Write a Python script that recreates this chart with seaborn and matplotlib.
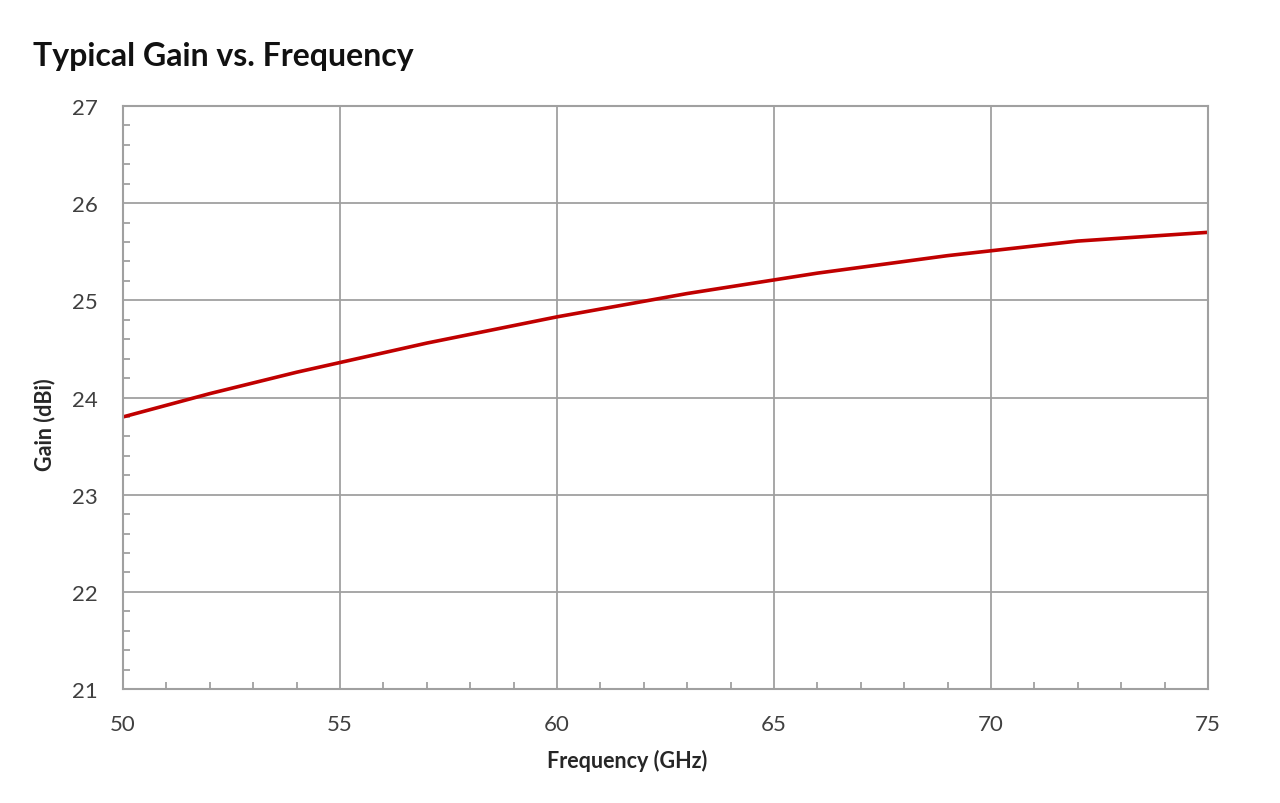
import numpy as np
import pandas as pd
import matplotlib
matplotlib.use('Agg')
import matplotlib.pyplot as plt
import seaborn as sns
from matplotlib.ticker import MultipleLocator

# Datos
freq = [50, 51, 52, 53, 54, 55, 56, 57, 58, 59, 60, 61, 62, 63, 64, 65, 66, 67, 68, 69, 70, 71, 72, 73, 74, 75]
gain = [23.80, 23.92, 24.04, 24.15, 24.26, 24.36, 24.46, 24.56, 24.65, 24.74, 24.83, 24.91, 24.99, 25.07, 25.14,
        25.21, 25.28, 25.34, 25.40, 25.46, 25.51, 25.56, 25.61, 25.64, 25.67, 25.70]
df = pd.DataFrame({'Frecuencia': freq, 'Ganancia': gain})

sns.set_style('white')
plt.rcParams['font.family'] = ['Lato', 'DejaVu Sans']

fig = plt.figure(figsize=(12.8, 8.04), dpi=100)
ax = fig.add_axes([0.0961, 0.1418, 0.8476, 0.7251])

sns.lineplot(data=df, x='Frecuencia', y='Ganancia', color='#C00000', linewidth=2.6, ax=ax)

ax.set_xlim(50, 75)
ax.set_ylim(21, 27)
ax.xaxis.set_major_locator(MultipleLocator(5))
ax.xaxis.set_minor_locator(MultipleLocator(1))
ax.yaxis.set_major_locator(MultipleLocator(1))
ax.yaxis.set_minor_locator(MultipleLocator(0.2))

ax.grid(True, which='major', color='#a0a0a0', linewidth=1.3)
ax.set_axisbelow(True)
for s in ax.spines.values():
  s.set_color('#a0a0a0')
  s.set_linewidth(1.5)

# marcas menores hacia adentro
ax.tick_params(which='both', bottom=True, left=True, top=False, right=False)
ax.tick_params(which='major', direction='in', length=0, labelsize=16, colors='#a0a0a0', labelcolor='#404040')
ax.tick_params(which='minor', direction='in', length=5, width=1.3, colors='#a0a0a0')
ax.tick_params(axis='x', which='major', pad=18)
ax.tick_params(axis='y', which='major', pad=18)

ax.set_xlabel('Frequency (GHz)', fontsize=15.5, fontweight='bold')
ax.set_ylabel('Gain (dBi)', fontsize=15.5, fontweight='bold')
ax.xaxis.set_label_coords(0.465, -0.103)
ax.yaxis.set_label_coords(-0.062, 0.455)

fig.text(0.026, 0.93, 'Typical Gain vs. Frequency', fontsize=23, fontweight='bold', ha='left', va='center', color='#111111')

plt.savefig('out.png', dpi=100)
